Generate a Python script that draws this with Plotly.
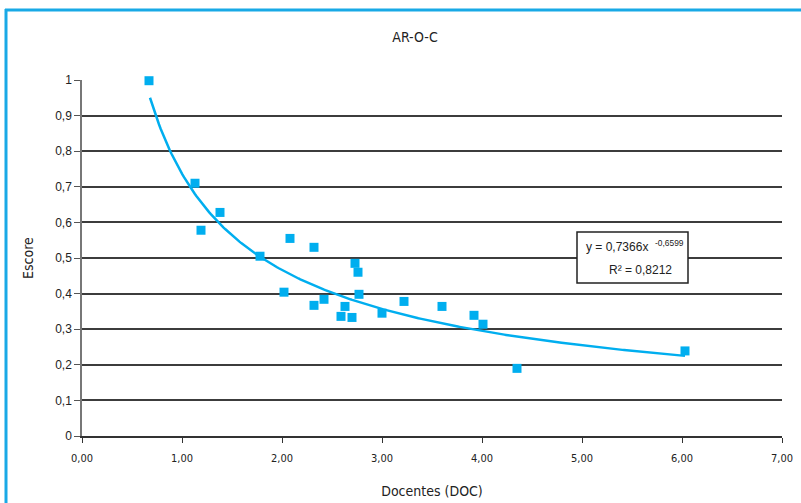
import numpy as np
import plotly.graph_objects as go

# Data
doc = [0.67, 1.13, 1.38, 1.19, 1.78, 2.08, 2.32, 2.02, 2.32, 2.42, 2.73, 2.76, 2.77,
       2.63, 2.59, 2.70, 3.00, 3.22, 3.60, 3.92, 4.01, 4.35, 6.03]
escore = [0.998, 0.710, 0.628, 0.578, 0.505, 0.555, 0.530, 0.404, 0.367, 0.384, 0.485,
          0.460, 0.398, 0.364, 0.336, 0.333, 0.345, 0.378, 0.364, 0.339, 0.314, 0.190, 0.239]

# Power trendline coefficients shown on the chart
coef_a = 0.7366
coef_b = -0.6599
r2_text = "0,8212"

x_ticks = [0, 1, 2, 3, 4, 5, 6, 7]
x_ticktext = ["0,00", "1,00", "2,00", "3,00", "4,00", "5,00", "6,00", "7,00"]
y_ticks = [0, 0.1, 0.2, 0.3, 0.4, 0.5, 0.6, 0.7, 0.8, 0.9, 1.0]
y_ticktext = ["0", "0,1", "0,2", "0,3", "0,4", "0,5", "0,6", "0,7", "0,8", "0,9", "1"]

CYAN = "#00AEEF"
NARROW = "DejaVu Sans Condensed, sans-serif"
REG = "Liberation Sans, Arial, sans-serif"

xt = np.linspace(min(doc) + 0.01, max(doc), 300)
yt = coef_a * xt ** coef_b

fig = go.Figure()
fig.add_trace(go.Scatter(x=xt, y=yt, mode="lines", cliponaxis=False,
                         line=dict(color=CYAN, width=2.5), hoverinfo="skip"))
fig.add_trace(go.Scatter(x=doc, y=escore, mode="markers", cliponaxis=False,
                         marker=dict(symbol="square", size=9, color=CYAN)))

L, R, T, B = 82, 19, 80, 67
W, H = 801, 503
pw, ph = W - L - R, H - T - B

def px(xp):
    return (xp - L) / pw

def py(yp):
    return (H - B - yp) / ph

fig.update_layout(
    width=W, height=H,
    margin=dict(l=L, r=R, t=T, b=B, autoexpand=False),
    paper_bgcolor="white", plot_bgcolor="white",
    showlegend=False,
    title=dict(text="AR-O-C", x=415 / W, xanchor="center", y=1 - 37 / H, yanchor="middle",
               font=dict(family=NARROW, size=14, color="#222")),
    xaxis=dict(range=[0, 7], tickvals=x_ticks, ticktext=x_ticktext, automargin=False,
               showgrid=False, zeroline=False, showline=True, linecolor="#333", linewidth=1.5,
               ticks="outside", ticklen=5, tickcolor="#333", tickwidth=1.2,
               ticklabelstandoff=6,
               tickfont=dict(family=NARROW, size=11, color="#222"),
               title=dict(text="Docentes (DOC)", font=dict(family=NARROW, size=14, color="#222"),
                          standoff=22)),
    yaxis=dict(range=[0, 1], tickvals=y_ticks, ticktext=y_ticktext, automargin=False,
               showgrid=True, gridcolor="#3c3c3c", gridwidth=1.5, zeroline=False,
               showline=True, linecolor="#777", linewidth=1.5,
               ticks="outside", ticklen=6, tickcolor="#555", tickwidth=1.2,
               tickfont=dict(family=REG, size=12, color="#222"),
               title=dict(text="Escore", font=dict(family=NARROW, size=14, color="#222"),
                          standoff=18)),
)

# Equation box
fig.add_shape(type="rect", xref="paper", yref="paper",
              x0=px(577), x1=px(688), y0=py(283), y1=py(232),
              line=dict(color="#222", width=1.5), fillcolor="white", layer="above")
fig.add_annotation(xref="paper", yref="paper", x=px(584), y=py(246), xanchor="left", yanchor="middle",
                   text="y = 0,7366x  <sup>-0,6599</sup>", showarrow=False,
                   font=dict(family=REG, size=12, color="#222"))
fig.add_annotation(xref="paper", yref="paper", x=px(640), y=py(270), xanchor="center", yanchor="middle",
                   text="R² = " + r2_text, showarrow=False,
                   font=dict(family=REG, size=12, color="#222"))

# Cyan frame (top and left)
fig.add_shape(type="line", xref="paper", yref="paper", x0=px(5), x1=px(805), y0=py(10), y1=py(10),
              line=dict(color="#19A9E6", width=3))
fig.add_shape(type="line", xref="paper", yref="paper", x0=px(6), x1=px(6), y0=py(9), y1=py(510),
              line=dict(color="#19A9E6", width=3))

fig.write_html("out.html")
